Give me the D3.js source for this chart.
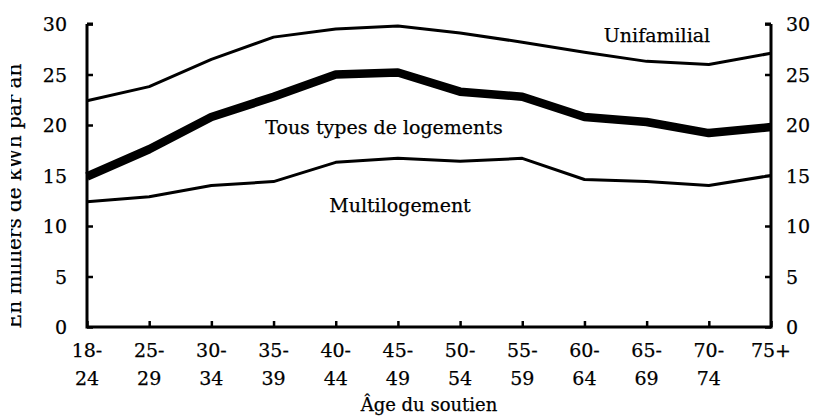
<!DOCTYPE html>
<html><head><meta charset="utf-8">
<script src="https://cdn.jsdelivr.net/npm/d3@7"></script>
<style>html,body{margin:0;padding:0;background:#fff;}svg{display:block;}</style>
</head><body>
<svg id="chart" width="814" height="417"></svg>
<script>
const categories = ["18-24","25-29","30-34","35-39","40-44","45-49","50-54","55-59","60-64","65-69","70-74","75+"];
const unifamilial = [22.4, 23.8, 26.5, 28.7, 29.5, 29.8, 29.1, 28.2, 27.2, 26.3, 26.0, 27.1];
const tousTypes   = [14.9, 17.6, 20.8, 22.8, 25.0, 25.2, 23.3, 22.8, 20.8, 20.3, 19.2, 19.8];
const multilogement = [12.4, 12.9, 14.0, 14.4, 16.3, 16.7, 16.4, 16.7, 14.6, 14.4, 14.0, 15.0];
const yTicks = [0, 5, 10, 15, 20, 25, 30];
const yTitle = "En milliers de kWh par an";
const xTitle = "Âge du soutien";
const seriesLabels = ["Unifamilial", "Tous types de logements", "Multilogement"];

const svg = d3.select("#chart");
const font = "'DejaVu Serif', serif";
const x = d3.scalePoint().domain(categories).range([87, 771]);
const y = d3.scaleLinear().domain([0, 30]).range([327, 24]);

// series lines
const line = d3.line().x((d, i) => x(categories[i])).y(d => y(d)).curve(d3.curveLinear);
const series = [
  {vals: unifamilial, w: 3},
  {vals: tousTypes, w: 8.5},
  {vals: multilogement, w: 3}
];
series.forEach(s => {
  svg.append("path").attr("d", line(s.vals)).attr("fill", "none")
    .attr("stroke", "#000").attr("stroke-width", s.w)
    .attr("stroke-linejoin", "round").attr("stroke-linecap", "butt");
});

// axes
const left = svg.append("g").attr("transform", "translate(87,0)")
  .call(d3.axisRight(y).tickValues(yTicks).tickSize(6).tickFormat(""));
const right = svg.append("g").attr("transform", "translate(771,0)")
  .call(d3.axisLeft(y).tickValues(yTicks).tickSize(6).tickFormat(""));
const bottom = svg.append("g").attr("transform", "translate(0,327)")
  .call(d3.axisTop(x).tickSize(6).tickFormat(""));
[left, right, bottom].forEach(g => {
  g.select(".domain").remove();
  g.selectAll(".tick line").attr("stroke", "#000").attr("stroke-width", 2.5);
});
svg.append("path")
  .attr("d", `M${x(categories[0])},${y(30)}V${y(0)}H${x(categories[categories.length-1])}V${y(30)}`)
  .attr("fill", "none").attr("stroke", "#000").attr("stroke-width", 3);
svg.append("line").attr("x1", 87).attr("x2", 93).attr("y1", y(30)).attr("y2", y(30)).attr("stroke", "#000").attr("stroke-width", 3);
svg.append("line").attr("x1", 765).attr("x2", 771).attr("y1", y(30)).attr("y2", y(30)).attr("stroke", "#000").attr("stroke-width", 3);

const txt = (sel) => sel.attr("font-family", font).attr("fill", "#000")
  .attr("stroke", "#000").attr("stroke-width", 0.25);

// y tick labels
yTicks.forEach(t => {
  txt(svg.append("text").attr("x", 67).attr("y", y(t) + 7).attr("text-anchor", "end")
    .attr("font-size", 19)).text(t);
  txt(svg.append("text").attr("x", 786).attr("y", y(t) + 7).attr("text-anchor", "start")
    .attr("font-size", 19)).text(t);
});

// x tick labels (two lines)
categories.forEach(c => {
  const parts = c.includes("-") ? [c.split("-")[0] + "-", c.split("-")[1]] : [c];
  const t = txt(svg.append("text").attr("text-anchor", "middle").attr("font-size", 19));
  parts.forEach((p, i) => {
    t.append("tspan").attr("x", x(c)).attr("y", 357 + i * 28).text(p);
  });
});

// axis titles
txt(svg.append("text").attr("x", 429).attr("y", 411).attr("text-anchor", "middle")
  .attr("font-size", 18)).text(xTitle);
svg.append("clipPath").attr("id", "yclip").append("rect").attr("x", 11).attr("y", 0).attr("width", 30).attr("height", 417);
txt(svg.append("g").attr("clip-path", "url(#yclip)")
  .append("text").attr("transform", "translate(21,196) rotate(-90)")
  .attr("text-anchor", "middle").attr("font-size", 20)).text(yTitle);

// series labels
txt(svg.append("text").attr("x", 657).attr("y", 42).attr("text-anchor", "middle")
  .attr("font-size", 19)).text(seriesLabels[0]);
txt(svg.append("text").attr("x", 384).attr("y", 134).attr("text-anchor", "middle")
  .attr("font-size", 19)).text(seriesLabels[1]);
txt(svg.append("text").attr("x", 400).attr("y", 212).attr("text-anchor", "middle")
  .attr("font-size", 19)).text(seriesLabels[2]);
</script>
</body></html>
